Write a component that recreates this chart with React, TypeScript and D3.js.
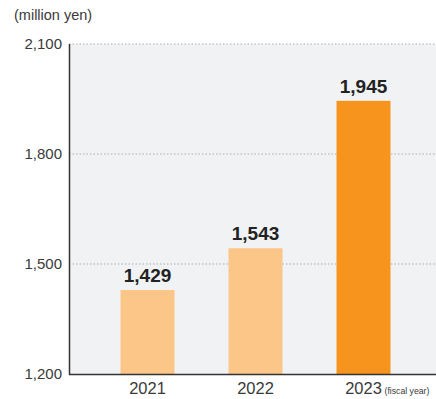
import React from "react";
import * as d3 from "d3";

const years = ["2021", "2022", "2023"];
const values = [1429, 1543, 1945];
const yTicks = [1200, 1500, 1800, 2100];
const barColors = ["#fbc687", "#fbc687", "#f7941e"];

export default function App() {
  const W = 436, H = 399;
  const left = 69, right = 436, top = 44, bottom = 374;
  const y = d3.scaleLinear().domain([1200, 2100]).range([bottom, top]);
  const x = d3.scaleBand<string>().domain(years).range([93.5, 417.5]).paddingInner(0.5).paddingOuter(0.25);
  const fmt = d3.format(",");
  const font = "'Liberation Sans', Arial, Helvetica, sans-serif";
  return (
    <svg width={W} height={H} style={{ position: "absolute", left: 0, top: 0 }} fontFamily={font}>
      <rect x={left} y={top} width={right - left} height={bottom - top} fill="#f1f2f4" />
      {yTicks.filter(t => t > 1200).map(t => (
        <line key={t} x1={left} x2={right} y1={y(t)} y2={y(t)} stroke="#a9abae" strokeWidth={1} strokeDasharray="1.5,2" />
      ))}
      {yTicks.map(t => (
        <text key={t} x={62} y={y(t) + 5} textAnchor="end" fontSize={15} fill="#3a3a3a">{fmt(t)}</text>
      ))}
      <text x={14} y={20} fontSize={14.5} fill="#3a3a3a">(million yen)</text>
      {years.map((yr, i) => (
        <g key={yr}>
          <rect x={x(yr)!} y={y(values[i])} width={x.bandwidth()} height={bottom - y(values[i])} fill={barColors[i]} />
          <text x={x(yr)! + x.bandwidth() / 2} y={y(values[i]) - 8} textAnchor="middle" fontSize={19} fontWeight="bold" fill="#222">{fmt(values[i])}</text>
          <text x={x(yr)! + x.bandwidth() / 2} y={394} textAnchor="middle" fontSize={16.5} fill="#3a3a3a">{yr}</text>
        </g>
      ))}
      <text x={384.5} y={394} fontSize={8.7} fill="#3a3a3a">(fiscal year)</text>
      <line x1={left} x2={right} y1={bottom + 0.5} y2={bottom + 0.5} stroke="#333" strokeWidth={1.5} />
      <line x1={left + 0.5} x2={left + 0.5} y1={top} y2={bottom + 1} stroke="#333" strokeWidth={1.5} />
    </svg>
  );
}
